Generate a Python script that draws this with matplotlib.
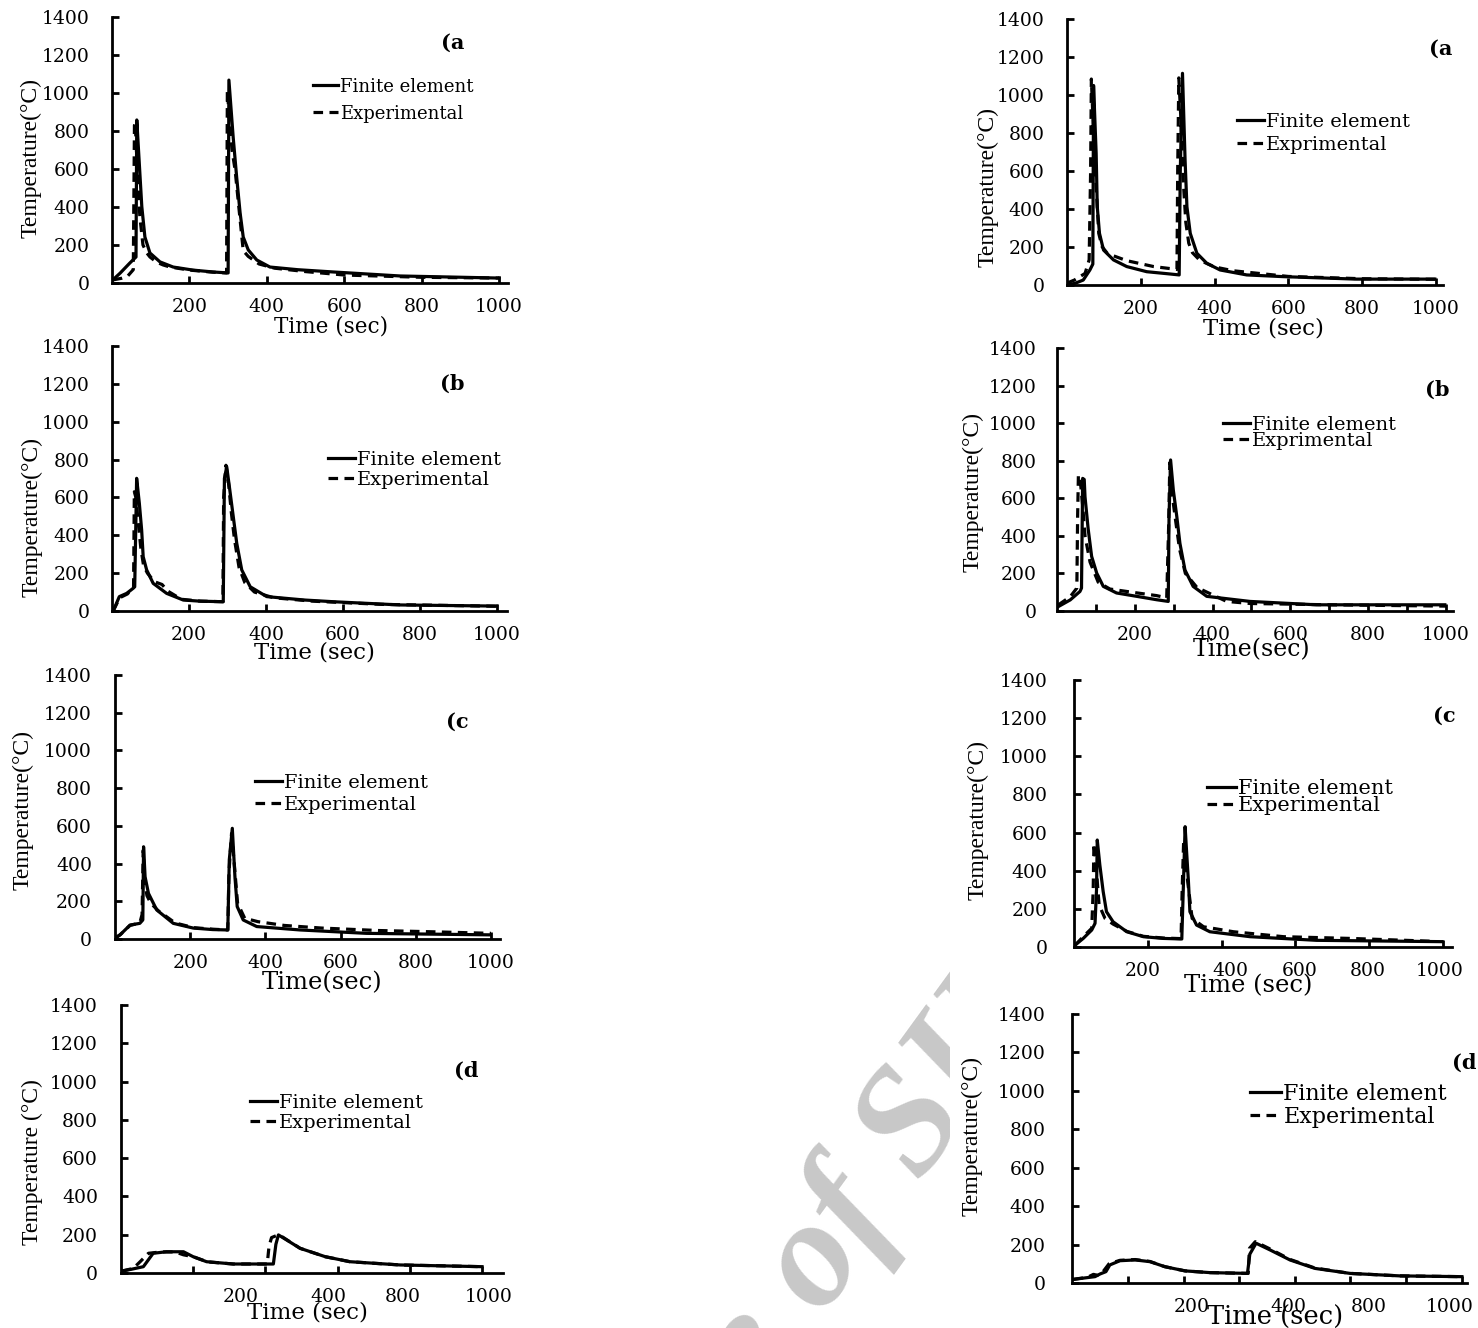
import matplotlib
matplotlib.use("Agg")
import matplotlib.pyplot as plt
from matplotlib.transforms import Bbox

W, H = 1478, 1328

# ---- left column, (a)-(d): time [s] and temperature [degC] ----
la_fe_t = [2, 21, 46, 62, 64, 70, 77, 85, 98, 124, 158, 209, 261, 300, 302, 313, 322, 331, 339, 352, 374, 408, 480, 572, 744, 1000]
la_fe_T = [16, 52, 105, 137, 858, 647, 402, 242, 158, 111, 84, 68, 58, 53, 1068, 768, 558, 368, 242, 174, 121, 84, 70, 58, 37, 26]
la_ex_t = [2, 25, 40, 55, 58, 60, 66, 72, 80, 90, 98, 115, 132, 150, 200, 260, 296, 298, 302, 310, 318, 331, 339, 352, 380, 420, 500, 600, 800, 1000]
la_ex_T = [16, 25, 35, 70, 830, 845, 560, 349, 200, 158, 137, 110, 95, 84, 68, 57, 53, 1015, 900, 700, 595, 332, 170, 140, 100, 78, 60, 42, 30, 26]

lb_fe_t = [3, 8, 19, 38, 55, 59, 64, 71, 77, 81, 90, 107, 142, 185, 228, 289, 292, 298, 306, 315, 324, 337, 359, 402, 500, 575, 748, 999]
lb_fe_T = [0, 23, 76, 93, 120, 128, 701, 569, 428, 287, 217, 146, 93, 58, 52, 49, 700, 762, 639, 498, 358, 217, 128, 76, 58, 49, 32, 26]
lb_ex_t = [3, 20, 40, 56, 58, 62, 68, 75, 82, 92, 110, 130, 145, 180, 230, 288, 290, 296, 302, 310, 318, 330, 345, 370, 420, 520, 700, 1000]
lb_ex_T = [0, 70, 90, 125, 630, 600, 470, 330, 240, 200, 155, 140, 105, 62, 52, 49, 600, 770, 690, 520, 380, 230, 150, 100, 70, 52, 35, 25]

lc_fe_t = [0, 13, 40, 66, 74, 76, 80, 89, 111, 155, 208, 260, 300, 304, 312, 319, 325, 341, 377, 492, 669, 997]
lc_fe_T = [4, 21, 74, 83, 101, 489, 330, 242, 154, 83, 58, 50, 48, 420, 587, 330, 172, 101, 66, 48, 30, 22]
lc_ex_t = [0, 15, 40, 66, 72, 75, 79, 85, 95, 115, 160, 210, 260, 300, 303, 310, 318, 326, 345, 380, 450, 550, 700, 850, 1000]
lc_ex_T = [4, 25, 72, 85, 130, 470, 300, 230, 190, 150, 85, 60, 52, 48, 350, 560, 380, 190, 110, 92, 72, 58, 45, 38, 30]

ld_fe_t = [2, 30, 62, 89, 126, 173, 200, 237, 311, 422, 429, 436, 496, 566, 634, 773, 1000]
ld_fe_T = [10, 20, 33, 103, 111, 111, 85, 59, 47, 47, 150, 199, 129, 85, 59, 42, 33]
ld_ex_t = [2, 34, 53, 76, 110, 150, 173, 200, 240, 311, 405, 410, 417, 430, 440, 496, 566, 634, 773, 1000]
ld_ex_T = [10, 24, 59, 103, 110, 110, 95, 85, 58, 47, 47, 140, 185, 195, 197, 129, 85, 59, 42, 33]

# ---- right column, (a)-(d) ----
ra_fe_t = [0, 22, 44, 62, 70, 72, 79, 82, 88, 99, 126, 162, 216, 279, 304, 307, 313, 320, 325, 334, 352, 379, 415, 487, 586, 784, 997]
ra_fe_T = [0, 9, 26, 79, 110, 1050, 693, 412, 272, 184, 132, 97, 70, 58, 53, 600, 1114, 658, 412, 272, 167, 114, 79, 53, 44, 31, 31]
ra_ex_t = [0, 20, 49, 60, 64, 66, 73, 79, 86, 95, 110, 162, 235, 298, 300, 303, 308, 315, 322, 330, 340, 360, 400, 450, 600, 800, 1000]
ra_ex_T = [10, 26, 61, 132, 600, 1084, 750, 518, 272, 202, 165, 128, 97, 82, 600, 1090, 900, 550, 330, 220, 170, 130, 95, 75, 45, 33, 30]

rb_fe_t = [3, 34, 59, 63, 66, 70, 72, 80, 89, 102, 119, 153, 205, 256, 286, 288, 292, 299, 308, 316, 329, 350, 385, 496, 667, 997]
rb_fe_T = [23, 59, 104, 122, 706, 700, 608, 439, 291, 202, 131, 96, 78, 60, 51, 500, 804, 644, 502, 360, 218, 131, 78, 51, 33, 33]
rb_ex_t = [3, 34, 51, 53, 55, 60, 66, 72, 85, 106, 136, 196, 256, 282, 287, 290, 296, 305, 315, 330, 360, 436, 496, 700, 1000]
rb_ex_T = [32, 76, 122, 500, 724, 690, 560, 400, 260, 153, 117, 99, 82, 70, 450, 790, 620, 480, 330, 200, 125, 51, 40, 33, 26]

rc_fe_t = [3, 25, 48, 57, 61, 63, 70, 79, 88, 106, 143, 188, 242, 292, 296, 301, 305, 310, 314, 332, 368, 477, 657, 997]
rc_fe_T = [10, 45, 89, 124, 300, 561, 430, 291, 185, 132, 80, 54, 45, 42, 300, 631, 500, 343, 185, 115, 80, 54, 35, 28]
rc_ex_t = [3, 25, 48, 52, 54, 61, 68, 84, 106, 143, 188, 242, 290, 293, 297, 308, 320, 351, 432, 568, 748, 973]
rc_ex_T = [10, 54, 98, 300, 543, 395, 220, 150, 120, 82, 56, 47, 44, 300, 552, 343, 150, 106, 80, 54, 45, 30]

rd_fe_t = [4, 59, 72, 87, 97, 123, 162, 200, 238, 290, 354, 450, 456, 472, 508, 559, 623, 713, 841, 1000]
rd_fe_T = [19, 33, 47, 59, 94, 116, 120, 111, 85, 63, 54, 50, 150, 207, 172, 120, 76, 50, 37, 33]
rd_ex_t = [4, 40, 55, 65, 80, 95, 123, 162, 200, 238, 290, 354, 452, 455, 470, 510, 560, 623, 713, 841, 1000]
rd_ex_T = [19, 30, 45, 40, 60, 100, 118, 122, 112, 85, 63, 54, 50, 180, 215, 175, 122, 78, 50, 37, 33]

fe_t = [la_fe_t, lb_fe_t, lc_fe_t, ld_fe_t, ra_fe_t, rb_fe_t, rc_fe_t, rd_fe_t]
fe_T = [la_fe_T, lb_fe_T, lc_fe_T, ld_fe_T, ra_fe_T, rb_fe_T, rc_fe_T, rd_fe_T]
ex_t = [la_ex_t, lb_ex_t, lc_ex_t, ld_ex_t, ra_ex_t, rb_ex_t, rc_ex_t, rd_ex_t]
ex_T = [la_ex_T, lb_ex_T, lc_ex_T, ld_ex_T, ra_ex_T, rb_ex_T, rc_ex_T, rd_ex_T]

fe_label = "Finite element"
exp_labels = ["Experimental"] * 4 + ["Exprimental", "Exprimental", "Experimental", "Experimental"]
ylabels = ["Temperature(°C)"] * 3 + ["Temperature (°C)"] + ["Temperature(°C)"] * 4
xlabels = ["Time (sec)", "Time (sec)", "Time(sec)", "Time (sec)",
           "Time (sec)", "Time(sec)", "Time (sec)", "Time (sec)"]
letters = ["(a", "(b", "(c", "(d", "(a", "(b", "(c", "(d"]

std = [200, 400, 600, 800, 1000]
std_lab = ["200", "400", "600", "800", "1000"]
tick_pos = [std, std, std, std, std,
            [100, 200, 300, 400, 500, 600, 700, 800, 900, 1000], std,
            [143, 286, 429, 571, 714, 857, 1000]]
lab_pos = [std, std, std, [332, 573, 781, 1019], std, std,
           [187, 423, 612, 797, 992], [308, 556, 761, 969]]
lab_txt = [std_lab, std_lab, std_lab, ["200", "400", "800", "1000"], std_lab, std_lab,
           std_lab, ["200", "400", "800", "1000"]]

# ---- layout in image pixels ----
# axes box: left, right, bottom (y=0), top (y=1400)
boxes = [(112, 508, 283, 17), (112, 507, 611, 346), (115, 500, 939, 675), (121, 503, 1273, 1005),
         (1067, 1443, 285, 19), (1057, 1453, 611, 348), (1074, 1452, 947, 680), (1072, 1467, 1283, 1014)]
xmax = [1023, 1026, 1024, 1058, 1019, 1018, 1024, 1013]
# legend: handle start x, first row centre y, font size, label spacing
legends = [(313, 88, 13, 0.5), (328, 462, 14, 0.12), (255, 785, 14, 0.23), (250, 1105, 14, 0.12),
           (1237, 124, 14, 0.28), (1223, 427, 14, -0.08), (1207, 791, 15, -0.1), (1250, 1096, 16, 0.05)]
ylab_xy = [(31, 158), (32, 517), (23, 810), (32, 1162), (988, 187), (973, 492), (978, 820), (972, 1136)]
xlab_xy = [(331, 326), (314, 652), (322, 983), (307, 1313), (1263, 328), (1252, 650), (1248, 986), (1275, 1317)]
xlab_size = [15.5, 16.5, 17.5, 16.5, 16.5, 17, 17.5, 18.5]
letter_xy = [(453, 43), (452, 384), (457, 722), (466, 1071), (1441, 49), (1437, 390), (1444, 716), (1464, 1063)]
ytick_pad = [16, 16, 16.5, 16.5, 16, 14.5, 19, 19]

plt.rcParams["font.family"] = "DejaVu Serif"
fig = plt.figure(figsize=(W / 100, H / 100), dpi=100)

# faint watermark behind everything, cut off where the pasted right column begins
wm = fig.text(765 / W, 1 - 1345 / H, "Archive of SID", fontsize=110, family="Liberation Serif",
              style="italic", weight="bold", color="#c8c8c8", rotation=54,
              rotation_mode="anchor", ha="center", va="center", zorder=0)
wm.set_clip_box(Bbox.from_extents(0, 0, 950, H))
wm.set_clip_on(True)

for i in range(8):
    l, r, yb, yt = boxes[i]
    ax = fig.add_axes([l / W, 1 - yb / H, (r - l) / W, (yb - yt) / H])
    ax.patch.set_visible(False)
    ax.plot(fe_t[i], fe_T[i], color="black", lw=2.3, label=fe_label)
    ax.plot(ex_t[i], ex_T[i], color="black", lw=2.3, dashes=(3, 2), label=exp_labels[i])
    ax.set_xlim(0, xmax[i])
    ax.set_ylim(0, 1400)
    for s in ["top", "right"]:
        ax.spines[s].set_visible(False)
    for s in ["left", "bottom"]:
        ax.spines[s].set_linewidth(2)

    ax.set_yticks(range(0, 1401, 200))
    ax.tick_params(axis="y", direction="in", length=5, width=2, pad=ytick_pad[i], labelsize=13.5)
    # tick marks and their labels are placed separately (labels sit off the marks in some panels)
    ax.xaxis.remove_overlapping_locs = False
    ax.set_xticks(tick_pos[i])
    ax.set_xticks(lab_pos[i], lab_txt[i], minor=True)
    ax.tick_params(axis="x", which="major", direction="in", length=5, width=2, labelbottom=False)
    ax.tick_params(axis="x", which="minor", length=0, pad=11, labelsize=13.5)

    ax.set_ylabel(ylabels[i], family="Liberation Serif", fontsize=17, va="center")
    px, py = ylab_xy[i]
    ax.yaxis.set_label_coords((px - l) / (r - l), (yb - py) / (yb - yt))
    ax.set_xlabel(xlabels[i], fontsize=xlab_size[i], va="center")
    px, py = xlab_xy[i]
    ax.xaxis.set_label_coords((px - l) / (r - l), (yb - py) / (yb - yt))

    lx, ly, fs, sp = legends[i]
    row_h = 1.16 * fs * 100 / 72
    ax.legend(loc="upper left", bbox_to_anchor=(lx / W, 1 - (ly - row_h / 2) / H),
              bbox_transform=fig.transFigure, frameon=False, borderpad=0, borderaxespad=0,
              handlelength=1.4, handletextpad=0.1, labelspacing=sp, fontsize=fs)

    px, py = letter_xy[i]
    fig.text(px / W, 1 - py / H, letters[i], fontsize=15, weight="bold", ha="center", va="center")

fig.savefig("out.png", dpi=100)
